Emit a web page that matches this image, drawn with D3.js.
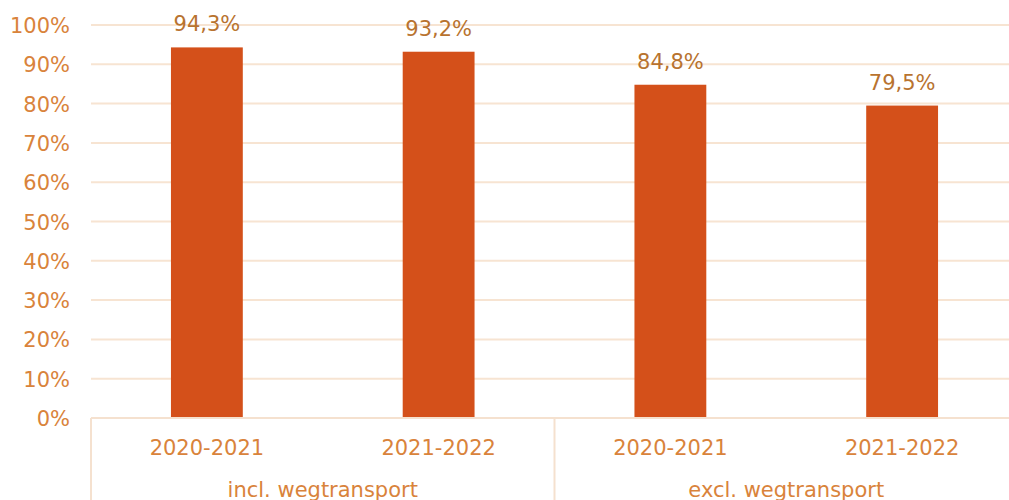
<!DOCTYPE html>
<html>
<head>
<meta charset="utf-8">
<script src="https://cdn.jsdelivr.net/npm/d3@7"></script>
<style>
  html, body { margin: 0; padding: 0; background: #fff; }
  text { font-family: "DejaVu Sans", Verdana, sans-serif; }
</style>
</head>
<body>
<div id="chart"></div>
<script>
"use strict";

const groups = ["incl. wegtransport", "excl. wegtransport"];
const periods = ["2020-2021", "2021-2022", "2020-2021", "2021-2022"];
const values = [94.3, 93.2, 84.8, 79.5];
const yTicks = [0, 10, 20, 30, 40, 50, 60, 70, 80, 90, 100];

const width = 1009;
const height = 500;
const plotLeft = 91;
const plotRight = 1018;
const plotTop = 25;
const plotBottom = 418;
const fontSize = 21;

const svg = d3.select("#chart")
  .append("svg")
  .attr("width", width)
  .attr("height", height);

const xScale = d3.scaleBand()
  .domain(d3.range(values.length))
  .range([plotLeft, plotRight])
  .paddingInner(0.69)
  .paddingOuter(0.345);

const yScale = d3.scaleLinear()
  .domain([0, 100])
  .range([plotBottom, plotTop]);

// gridlines
svg.append("g")
  .selectAll("line")
  .data(yTicks)
  .enter()
  .append("line")
  .attr("x1", plotLeft)
  .attr("x2", plotRight)
  .attr("y1", d => yScale(d))
  .attr("y2", d => yScale(d))
  .attr("stroke", "#f7e4d2")
  .attr("stroke-width", 2);

// y labels
svg.append("g")
  .selectAll("text")
  .data(yTicks)
  .enter()
  .append("text")
  .attr("x", 70)
  .attr("y", d => yScale(d) + 8)
  .attr("text-anchor", "end")
  .attr("font-size", fontSize)
  .attr("fill", "#d9833b")
  .text(d => d + "%");

// bars
svg.append("g")
  .selectAll("rect")
  .data(values)
  .enter()
  .append("rect")
  .attr("x", (d, i) => xScale(i))
  .attr("y", d => yScale(d))
  .attr("width", xScale.bandwidth())
  .attr("height", d => plotBottom - yScale(d))
  .attr("fill", "#d4501a");

// value labels
svg.append("g")
  .selectAll("text")
  .data(values)
  .enter()
  .append("text")
  .attr("x", (d, i) => xScale(i) + xScale.bandwidth() / 2)
  .attr("y", d => yScale(d) - 16)
  .attr("text-anchor", "middle")
  .attr("font-size", fontSize)
  .attr("fill", "#b8732f")
  .text(d => d.toFixed(1).replace(".", ",") + "%");

// category axis
const step = (plotRight - plotLeft) / values.length;
svg.append("line")
  .attr("x1", plotLeft).attr("x2", plotRight)
  .attr("y1", plotBottom).attr("y2", plotBottom)
  .attr("stroke", "#f5e1cf").attr("stroke-width", 2);

svg.append("g")
  .selectAll("line")
  .data([0, 2, 4])
  .enter()
  .append("line")
  .attr("x1", d => plotLeft + d * step)
  .attr("x2", d => plotLeft + d * step)
  .attr("y1", plotBottom)
  .attr("y2", height)
  .attr("stroke", "#f5e1cf")
  .attr("stroke-width", 2);

svg.append("g")
  .selectAll("text")
  .data(periods)
  .enter()
  .append("text")
  .attr("x", (d, i) => xScale(i) + xScale.bandwidth() / 2)
  .attr("y", 455)
  .attr("text-anchor", "middle")
  .attr("font-size", fontSize)
  .attr("fill", "#d9833b")
  .text(d => d);

svg.append("g")
  .selectAll("text")
  .data(groups)
  .enter()
  .append("text")
  .attr("x", (d, i) => plotLeft + (i * 2 + 1) * step)
  .attr("y", 497)
  .attr("text-anchor", "middle")
  .attr("font-size", fontSize)
  .attr("fill", "#d9833b")
  .text(d => d);
</script>
</body>
</html>
